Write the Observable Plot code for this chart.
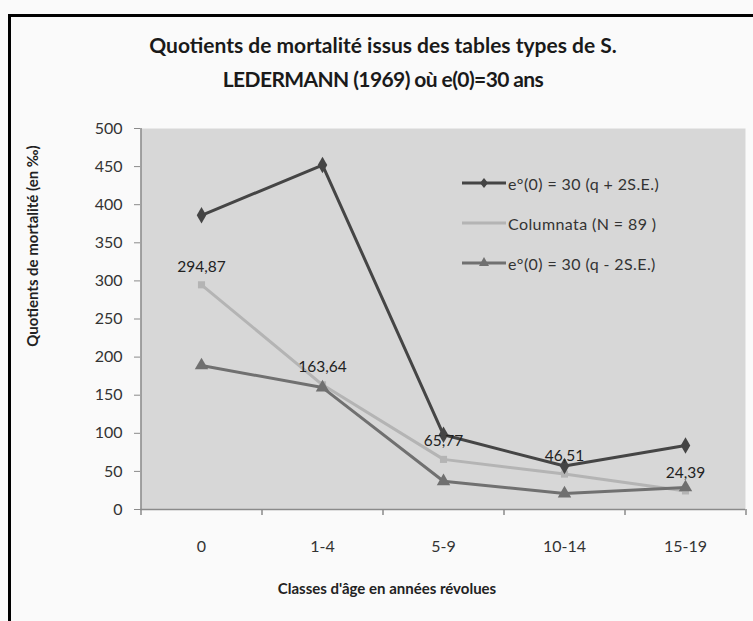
<!DOCTYPE html>
<html><head><meta charset="utf-8">
<script src="https://cdn.jsdelivr.net/npm/d3@7"></script>
<script src="https://cdn.jsdelivr.net/npm/@observablehq/plot@0.6"></script>
<style>
body{margin:0;background:#fff;}
#wrap{position:relative;width:753px;height:621px;overflow:hidden;font-family:Lato,"Open Sans",sans-serif;background:#fafafa;}
.bt{position:absolute;left:8px;top:14px;width:745px;height:3px;background:#000;}
.bl{position:absolute;left:8px;top:14px;width:3px;height:607px;background:#000;}
#title{position:absolute;left:0;width:766px;top:28px;text-align:center;font-weight:bold;font-size:21px;line-height:34px;color:#1a1a1a;}
#title .l2{letter-spacing:-0.6px;}
#chart{position:absolute;left:0;top:100px;}
#ytitle{position:absolute;left:32px;top:246px;transform:translate(-50%,-50%) rotate(-90deg);white-space:nowrap;font-weight:bold;font-size:15px;color:#222;}
#xtitle{position:absolute;left:387px;top:588px;transform:translate(-50%,-50%);white-space:nowrap;font-weight:bold;font-size:15px;color:#222;}
#legend{position:absolute;left:462px;top:163px;font-size:16px;letter-spacing:0.4px;color:#333;}
#legend .row{display:flex;align-items:center;height:40px;}
#legend svg{margin-right:2px;}
</style></head>
<body>
<div id="wrap">
  <div class="bt"></div><div class="bl"></div>
  <div id="title"></div>
  <div id="chart"></div>
  <div id="ytitle"></div>
  <div id="xtitle"></div>
  <div id="legend"></div>
</div>
<script>
const titleLines = ["Quotients de mortalité issus des tables types de S.", "LEDERMANN (1969) où e(0)=30 ans"];
const yTitle = "Quotients de mortalité (en ‰)";
const xTitle = "Classes d'âge en années révolues";
const categories = ["0", "1-4", "5-9", "10-14", "15-19"];
const seriesNames = ["e°(0) = 30 (q + 2S.E.)", "Columnata (N = 89 )", "e°(0) = 30 (q - 2S.E.)"];
const upper = [386, 452, 98, 57, 84];
const columnata = [294.87, 163.64, 65.77, 46.51, 24.39];
const lower = [189, 160, 37, 21, 29];
const yTicks = [0, 50, 100, 150, 200, 250, 300, 350, 400, 450, 500];

const colors = ["#454545", "#b4b4b4", "#707070"];
const symbols = ["diamond", "square", "triangle"];
const valuesBySeries = [upper, columnata, lower];

const rows = [];
valuesBySeries.forEach((vals, s) => vals.forEach((v, i) => rows.push({series: seriesNames[s], cat: categories[i], value: v})));
const colRows = rows.filter(d => d.series === seriesNames[1]);
const fmt = v => v.toFixed(2).replace(".", ",");

const t = document.getElementById("title");
titleLines.forEach((line, i) => {
  const div = document.createElement("div");
  div.className = "l" + (i + 1);
  div.textContent = line;
  t.appendChild(div);
});
document.getElementById("ytitle").textContent = yTitle;
document.getElementById("xtitle").textContent = xTitle;

const half = 605 / categories.length / 2;

const marks = [
  Plot.frame({fill: "#d7d7d7", stroke: "none"}),
  Plot.ruleY([0], {stroke: "#8a8a8a", strokeWidth: 1.5}),
  Plot.ruleX(categories, {dx: -half, y1: 0, y2: -8, stroke: "#8a8a8a", strokeWidth: 1.5}),
  Plot.ruleX([categories[categories.length - 1]], {dx: half, y1: 0, y2: -8, stroke: "#8a8a8a", strokeWidth: 1.5}),
  Plot.ruleX([categories[0]], {dx: -half, y1: 0, y2: 500, stroke: "#8a8a8a", strokeWidth: 1.5}),
  Plot.axisY({ticks: yTicks, tickSize: 6, tickPadding: 12, fontSize: 16, label: null, stroke: "#8a8a8a", color: "#333"}),
  Plot.axisX({tickSize: 0, tickPadding: 31, fontSize: 16, label: null, color: "#333"})
];
[1, 2, 0].forEach(s => {
  const d = rows.filter(r => r.series === seriesNames[s]);
  marks.push(Plot.line(d, {x: "cat", y: "value", stroke: colors[s], strokeWidth: 3}));
  marks.push(Plot.dot(d, {x: "cat", y: "value", symbol: () => symbols[s], fill: colors[s], r: s === 1 ? 4 : 5, stroke: "none"}));
});
marks.push(Plot.text(colRows, {x: "cat", y: "value", text: d => fmt(d.value), dy: -18, fontSize: 15.5, fill: "#222"}));

const chart = Plot.plot({
  width: 753, height: 521,
  marginTop: 28, marginBottom: 112, marginLeft: 140, marginRight: 8,
  style: {background: "transparent", fontFamily: "Lato, 'Open Sans', sans-serif"},
  x: {type: "point", domain: categories, padding: 0.5},
  y: {domain: [0, 500]},
  marks
});
document.getElementById("chart").appendChild(chart);

const leg = document.getElementById("legend");
seriesNames.forEach((name, s) => {
  const row = document.createElement("div");
  row.className = "row";
  const sym = symbols[s];
  let marker = "";
  if (s !== 1) {
    marker = sym === "diamond"
      ? `<path d="M22,3 L26,8 L22,13 L18,8 Z" fill="${colors[s]}"/>`
      : `<path d="M22,2 L27,11 L17,11 Z" fill="${colors[s]}"/>`;
  }
  row.innerHTML = `<svg width="44" height="16"><line x1="0" y1="8" x2="44" y2="8" stroke="${colors[s]}" stroke-width="3"/>${marker}</svg><span></span>`;
  row.querySelector("span").textContent = name;
  leg.appendChild(row);
});
</script>
</body></html>
